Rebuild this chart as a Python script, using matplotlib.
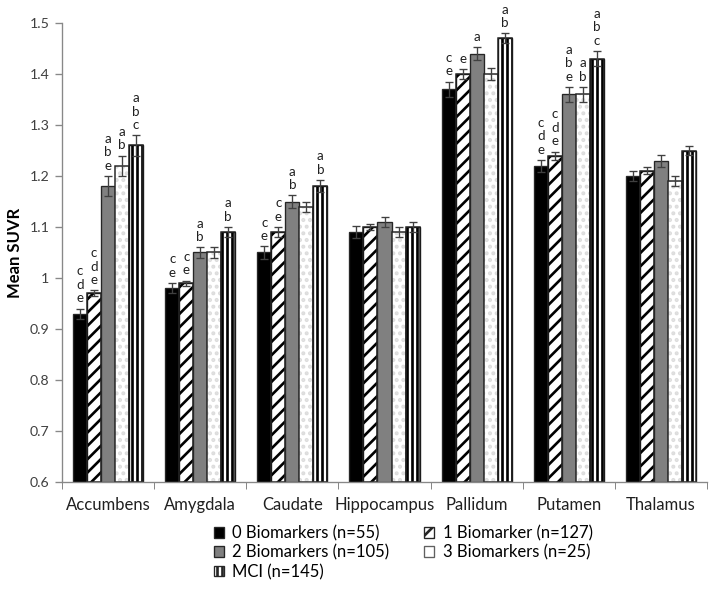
import numpy as np
import matplotlib
matplotlib.use("Agg")
from matplotlib import pyplot as plt
from matplotlib.patches import Patch

plt.rcParams['font.family'] = ['Lato', 'DejaVu Sans']
plt.rcParams['hatch.linewidth'] = 1.6

regions = ["Accumbens", "Amygdala", "Caudate", "Hippocampus", "Pallidum", "Putamen", "Thalamus"]
groups = ["0 Biomarkers (n=55)", "1 Biomarker (n=127)", "2 Biomarkers (n=105)",
          "3 Biomarkers (n=25)", "MCI (n=145)"]

bm0 = [0.93, 0.98, 1.05, 1.09, 1.37, 1.22, 1.20]
bm1 = [0.97, 0.99, 1.09, 1.10, 1.40, 1.24, 1.21]
bm2 = [1.18, 1.05, 1.15, 1.11, 1.44, 1.36, 1.23]
bm3 = [1.22, 1.05, 1.14, 1.09, 1.40, 1.36, 1.19]
mci = [1.26, 1.09, 1.18, 1.10, 1.47, 1.43, 1.25]

err0 = [0.010, 0.010, 0.012, 0.012, 0.015, 0.012, 0.010]
err1 = [0.006, 0.005, 0.010, 0.006, 0.010, 0.008, 0.007]
err2 = [0.020, 0.010, 0.012, 0.010, 0.012, 0.015, 0.012]
err3 = [0.020, 0.010, 0.010, 0.010, 0.012, 0.015, 0.010]
errm = [0.020, 0.010, 0.012, 0.010, 0.010, 0.015, 0.008]

# significance letters per region, per group
letters = [
    ["cde", "cde", "abe", "ab", "abc"],
    ["ce", "ce", "ab", "", "ab"],
    ["ce", "ce", "ab", "", "ab"],
    ["", "", "", "", ""],
    ["ce", "e", "a", "", "ab"],
    ["cde", "cde", "abe", "ab", "abc"],
    ["", "", "", "", ""],
]

values = [bm0, bm1, bm2, bm3, mci]
errors = [err0, err1, err2, err3, errm]

fig = plt.figure(figsize=(718 / 120, 589 / 120), dpi=120)
ax = fig.add_axes([62 / 718, 1 - 482 / 589, (707 - 62) / 718, (482 - 23) / 589])

x = np.arange(len(regions))
w = 0.152
edge = "#262626"
styles = [
    dict(color="black", edgecolor=edge),
    dict(color="white", edgecolor="black", hatch="///"),
    dict(color="#808080", edgecolor=edge),
    dict(color="white", edgecolor="#dcdcdc", hatch="..."),
    dict(color="white", edgecolor="black", hatch="||||"),
]

for j in range(5):
    pos = x + (j - 2) * w
    st = styles[j]
    ax.bar(pos, np.array(values[j]) - 0.6, w, bottom=0.6, color=st["color"],
           edgecolor=st["edgecolor"], hatch=st.get("hatch"), linewidth=0 if j == 3 else 0.8)
    if j in (1, 3, 4):
        ax.bar(pos, np.array(values[j]) - 0.6, w, bottom=0.6, fill=False,
               edgecolor=edge, linewidth=0.9)
    ax.errorbar(pos, values[j], yerr=errors[j], fmt="none", ecolor="#404040",
                elinewidth=0.8, capsize=2.5, capthick=0.8)
    for i in range(len(regions)):
        lab = letters[i][j]
        if lab:
            ax.annotate("\n".join(lab), (pos[i], values[j][i] + errors[j][i]),
                        xytext=(0, 2.5), textcoords="offset points", ha="center",
                        va="bottom", fontsize=8, linespacing=1.15, color="#202020")

ax.set_xlim(-0.5, len(regions) - 0.5)
ax.set_ylim(0.6, 1.5)
ax.set_yticks(np.arange(0.6, 1.501, 0.1))
ax.set_yticklabels(["0.6", "0.7", "0.8", "0.9", "1", "1.1", "1.2", "1.3", "1.4", "1.5"])
ax.set_xticks(x)
ax.set_xticklabels(regions)
ax.set_xticks(np.arange(-0.5, len(regions), 1), minor=True)
ax.tick_params(axis="x", which="major", length=0, labelsize=10, pad=9, labelcolor="#202020")
ax.tick_params(axis="x", which="minor", length=4, color="#888888", direction="out")
ax.tick_params(axis="y", length=4, color="#888888", labelsize=8.5, labelcolor="#404040")
for s in ["top", "right"]:
    ax.spines[s].set_visible(False)
for s in ["left", "bottom"]:
    ax.spines[s].set_color("#888888")
ax.set_ylabel("Mean SUVR", fontsize=10, fontweight="bold", labelpad=4)

handles = []
for j in range(5):
    st = styles[j]
    handles.append(Patch(facecolor=st["color"], edgecolor=edge if j != 3 else "#606060",
                         hatch=None if j == 3 else st.get("hatch"), linewidth=0.8,
                         label=groups[j]))
order = [0, 2, 4, 1, 3]
fig.legend([handles[k] for k in order], [groups[k] for k in order], ncol=2,
           loc="upper left", bbox_to_anchor=(199 / 718, 1 - 510 / 589), frameon=False,
           fontsize=10, handlelength=0.6, handleheight=0.6, handletextpad=0.5,
           columnspacing=2.1, labelspacing=0.2)

fig.savefig("out.png", dpi=120)
